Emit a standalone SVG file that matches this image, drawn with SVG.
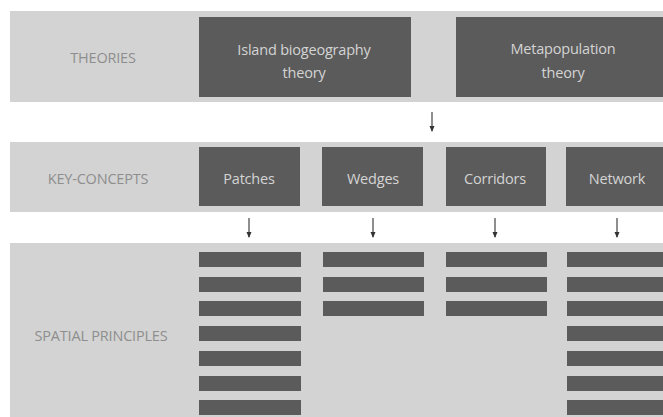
<svg xmlns="http://www.w3.org/2000/svg" width="663" height="417" viewBox="0 0 663 417">
<style>
.band{fill:#d3d3d3}
.box{fill:#5b5b5b}
.bar{fill:#5b5b5b}
.lbl{font-family:"Open Sans","Liberation Sans",sans-serif;font-size:14.5px;fill:#8e8e8e;text-anchor:middle;dominant-baseline:central;letter-spacing:-0.2px}
.txt{font-family:"Open Sans","Liberation Sans",sans-serif;font-size:14.5px;fill:#d4d4d4;text-anchor:middle;dominant-baseline:central;letter-spacing:-0.2px}
.arr{stroke:#444;stroke-width:1.2;fill:none}
</style>
<defs>
<marker id="ah" markerWidth="6" markerHeight="6" refX="5" refY="3" orient="auto" markerUnits="userSpaceOnUse" viewBox="0 0 6 6">
<path d="M0,0.5 L6,3 L0,5.5 Z" fill="#333"/>
</marker>
</defs>
<rect width="663" height="417" fill="#ffffff"/>
<g id="bands">
<rect class="band" x="10" y="11" width="653" height="91"/>
<rect class="band" x="10" y="142" width="653" height="70"/>
<rect class="band" x="10" y="243" width="653" height="174"/>
<text class="lbl" x="103" y="57">THEORIES</text>
<text class="lbl" x="98" y="178">KEY-CONCEPTS</text>
<text class="lbl" x="101" y="335">SPATIAL PRINCIPLES</text>
</g>
<g id="island">
<rect class="box" x="199" y="17" width="212" height="80"/>
<text class="txt" x="304" y="49">Island biogeography</text>
<text class="txt" x="304" y="72">theory</text>
</g>
<g id="metapopulation">
<rect class="box" x="456" y="17" width="207" height="80"/>
<text class="txt" x="563" y="48">Metapopulation</text>
<text class="txt" x="563" y="72">theory</text>
</g>
<g id="patches">
<rect class="box" x="199" y="147" width="101" height="59"/>
<text class="txt" x="249" y="178">Patches</text>
</g>
<g id="wedges">
<rect class="box" x="322" y="147" width="101" height="59"/>
<text class="txt" x="373" y="178">Wedges</text>
</g>
<g id="corridors">
<rect class="box" x="446" y="147" width="100" height="59"/>
<text class="txt" x="495" y="178">Corridors</text>
</g>
<g id="network">
<rect class="box" x="566" y="147" width="97" height="59"/>
<text class="txt" x="617" y="178">Network</text>
</g>
<g id="patches-principles">
<rect class="bar" x="199" y="252" width="102" height="15"/>
<rect class="bar" x="199" y="277" width="102" height="15"/>
<rect class="bar" x="199" y="301" width="102" height="15"/>
<rect class="bar" x="199" y="326" width="102" height="15"/>
<rect class="bar" x="199" y="351" width="102" height="15"/>
<rect class="bar" x="199" y="376" width="102" height="15"/>
<rect class="bar" x="199" y="400" width="102" height="15"/>
</g>
<g id="wedges-principles">
<rect class="bar" x="323" y="252" width="101" height="15"/>
<rect class="bar" x="323" y="277" width="101" height="15"/>
<rect class="bar" x="323" y="301" width="101" height="15"/>
</g>
<g id="corridors-principles">
<rect class="bar" x="446" y="252" width="101" height="15"/>
<rect class="bar" x="446" y="277" width="101" height="15"/>
<rect class="bar" x="446" y="301" width="101" height="15"/>
</g>
<g id="network-principles">
<rect class="bar" x="567" y="252" width="96" height="15"/>
<rect class="bar" x="567" y="277" width="96" height="15"/>
<rect class="bar" x="567" y="301" width="96" height="15"/>
<rect class="bar" x="567" y="326" width="96" height="15"/>
<rect class="bar" x="567" y="351" width="96" height="15"/>
<rect class="bar" x="567" y="376" width="96" height="15"/>
<rect class="bar" x="567" y="400" width="96" height="15"/>
</g>
<g id="connectors">
<line class="arr" x1="432" y1="112" x2="432" y2="131" marker-end="url(#ah)"/>
<line class="arr" x1="249" y1="218" x2="249" y2="237" marker-end="url(#ah)"/>
<line class="arr" x1="373" y1="218" x2="373" y2="237" marker-end="url(#ah)"/>
<line class="arr" x1="495" y1="218" x2="495" y2="237" marker-end="url(#ah)"/>
<line class="arr" x1="617" y1="218" x2="617" y2="237" marker-end="url(#ah)"/>
</g>
</svg>
